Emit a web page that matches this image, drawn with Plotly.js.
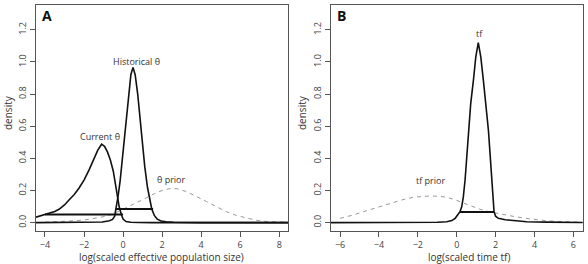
<!DOCTYPE html>
<html>
<head>
<meta charset="utf-8">
<script src="https://cdn.plot.ly/plotly-3.0.1.min.js"></script>
<style>html,body{margin:0;padding:0;background:#fff;}#chart{width:588px;height:264px;}</style>
</head>
<body>
<div id="chart"></div>
<script>
// ---- Panel A data ----
const currentX = [-4.46, -4.0, -3.79, -3.5, -3.28, -3.0, -2.77, -2.5, -2.26, -2.0, -1.74, -1.5, -1.3, -1.1, -0.95, -0.8, -0.65, -0.5, -0.37, -0.2, -0.1, 0.0, 0.15, 0.4, 0.8, 1.5, 8.45];
const currentY = [0.034, 0.05, 0.058, 0.07, 0.083, 0.11, 0.141, 0.175, 0.214, 0.265, 0.328, 0.395, 0.45, 0.488, 0.475, 0.44, 0.39, 0.32, 0.22, 0.1, 0.055, 0.022, 0.007, 0.002, 0.0005, 0, 0];
const historicalX = [-4.46, -1.5, -1.06, -0.7, -0.54, -0.43, -0.35, -0.26, -0.15, -0.08, 0.05, 0.17, 0.3, 0.4, 0.51, 0.62, 0.75, 0.86, 1.0, 1.11, 1.25, 1.37, 1.47, 1.6, 1.75, 1.95, 2.2, 2.6, 3.2, 4.0, 8.45];
const historicalY = [0, 0.0005, 0.004, 0.012, 0.02, 0.04, 0.09, 0.16, 0.26, 0.35, 0.52, 0.66, 0.82, 0.92, 0.966, 0.92, 0.8, 0.66, 0.48, 0.35, 0.22, 0.14, 0.085, 0.045, 0.022, 0.01, 0.005, 0.002, 0.001, 0, 0];
const thetaPriorX = [-4.0, -3.45, -2.9, -2.43, -1.9, -1.4, -0.95, -0.54, -0.1, 0.31, 0.75, 1.16, 1.6, 2.0, 2.4, 2.8, 3.25, 3.75, 4.28, 4.8, 5.3, 5.8, 6.33, 6.85, 7.35, 8.0, 8.45];
const thetaPriorY = [0.003, 0.005, 0.008, 0.012, 0.018, 0.027, 0.038, 0.052, 0.077, 0.104, 0.13, 0.152, 0.18, 0.2, 0.212, 0.21, 0.193, 0.165, 0.131, 0.098, 0.068, 0.045, 0.027, 0.014, 0.007, 0.003, 0.002];
const currentHpdX = [-4.0, 0.0];
const currentHpdY = [0.05, 0.05];
const historicalHpdX = [-0.37, 1.54];
const historicalHpdY = [0.085, 0.085];

// ---- Panel B data ----
const tfX = [-6.48, -2.0, -1.0, -0.51, -0.25, -0.08, 0.05, 0.17, 0.26, 0.34, 0.43, 0.52, 0.6, 0.72, 0.86, 0.98, 1.11, 1.24, 1.37, 1.5, 1.63, 1.72, 1.8, 1.87, 1.92, 2.0, 2.14, 2.5, 2.91, 3.6, 4.63, 5.5, 6.48];
const tfY = [0, 0.0005, 0.002, 0.006, 0.013, 0.027, 0.045, 0.068, 0.1, 0.16, 0.265, 0.42, 0.576, 0.74, 0.887, 1.03, 1.12, 1.03, 0.887, 0.74, 0.576, 0.42, 0.265, 0.14, 0.068, 0.04, 0.027, 0.018, 0.012, 0.006, 0.003, 0.001, 0.0005];
const tfPriorX = [-6.0, -5.4, -4.8, -4.1, -3.43, -2.8, -2.23, -1.8, -1.37, -0.95, -0.51, -0.1, 0.34, 0.8, 1.2, 1.7, 2.23, 3.0, 3.77, 4.6, 5.49, 6.3];
const tfPriorY = [0.027, 0.045, 0.068, 0.095, 0.12, 0.142, 0.158, 0.164, 0.166, 0.164, 0.158, 0.143, 0.124, 0.103, 0.083, 0.067, 0.054, 0.037, 0.023, 0.012, 0.006, 0.003];
const tfHpdX = [0.17, 1.92];
const tfHpdY = [0.066, 0.066];

// ---- tick labels ----
const xTicksA = [-4, -2, 0, 2, 4, 6, 8];
const xTicksB = [-6, -4, -2, 0, 2, 4, 6];
const yTicks = [0, 0.2, 0.4, 0.6, 0.8, 1.0, 1.2];
const yTickText = ["0.0", "0.2", "0.4", "0.6", "0.8", "1.0", "1.2"];
const minus = v => (v < 0 ? "\u2212" + Math.abs(v) : String(v));

const FONT = "'Open Sans', Lato, sans-serif";
const solid = {color: "#111", width: 1.6};
const bar = {color: "#111", width: 2};
const dashed = {color: "#999", width: 1, dash: "4px,4px"};

const traces = [
  {x: thetaPriorX, y: thetaPriorY, mode: "lines", line: dashed, xaxis: "x", yaxis: "y"},
  {x: currentX, y: currentY, mode: "lines", line: solid, xaxis: "x", yaxis: "y"},
  {x: historicalX, y: historicalY, mode: "lines", line: solid, xaxis: "x", yaxis: "y"},
  {x: currentHpdX, y: currentHpdY, mode: "lines", line: bar, xaxis: "x", yaxis: "y"},
  {x: historicalHpdX, y: historicalHpdY, mode: "lines", line: bar, xaxis: "x", yaxis: "y"},
  {x: tfPriorX, y: tfPriorY, mode: "lines", line: dashed, xaxis: "x2", yaxis: "y2"},
  {x: tfX, y: tfY, mode: "lines", line: solid, xaxis: "x2", yaxis: "y2"},
  {x: tfHpdX, y: tfHpdY, mode: "lines", line: bar, xaxis: "x2", yaxis: "y2"}
];

const W = 588, H = 264;
const axCommon = {
  showgrid: false, zeroline: false, showline: true, mirror: true,
  linecolor: "#555", linewidth: 1, ticks: "outside", ticklen: 5,
  tickcolor: "#555", tickwidth: 1,
  tickfont: {family: FONT, size: 9, color: "#444"}, fixedrange: true
};
const yDomain = [1 - 231 / H, 1 - 5 / H];
const txt = (text, x, y, xref, yref, size, extra) => Object.assign({
  text: text, x: x, y: y, xref: xref, yref: yref, showarrow: false,
  xanchor: "center", yanchor: "middle",
  font: {family: FONT, size: size, color: "#333"}
}, extra || {});
const layout = {
  width: W, height: H, margin: {l: 0, r: 0, t: 0, b: 0},
  paper_bgcolor: "#fff", plot_bgcolor: "#fff", showlegend: false,
  xaxis: Object.assign({}, axCommon, {domain: [36 / W, 288 / W], range: [-4.46, 8.45],
    tickvals: xTicksA, ticktext: xTicksA.map(minus), anchor: "y"}),
  yaxis: Object.assign({}, axCommon, {domain: yDomain, range: [-0.052, 1.354],
    tickvals: yTicks, ticktext: yTickText, tickangle: -90, anchor: "x"}),
  xaxis2: Object.assign({}, axCommon, {domain: [330.7 / W, 583.3 / W], range: [-6.48, 6.51],
    tickvals: xTicksB, ticktext: xTicksB.map(minus), anchor: "y2"}),
  yaxis2: Object.assign({}, axCommon, {domain: yDomain, range: [-0.052, 1.354],
    tickvals: yTicks, ticktext: yTickText, tickangle: -90, anchor: "x2"}),
  annotations: [
    txt("<b>A</b>", 47 / W, 1 - 16 / H, "paper", "paper", 14, {font: {family: FONT, size: 14, color: "#111"}}),
    txt("<b>B</b>", 341 / W, 1 - 16 / H, "paper", "paper", 14, {font: {family: FONT, size: 14, color: "#111"}}),
    txt("Historical \u03b8", 0.69, 1.0, "x", "y", 9),
    txt("Current \u03b8", -1.2, 0.537, "x", "y", 9),
    txt("\u03b8 prior", 2.48, 0.27, "x", "y", 9),
    txt("tf", 1.15, 1.178, "x2", "y2", 9),
    txt("tf prior", -1.33, 0.264, "x2", "y2", 9),
    txt("density", 8 / W, 1 - 113 / H, "paper", "paper", 10, {textangle: -90}),
    txt("density", 302 / W, 1 - 113 / H, "paper", "paper", 10, {textangle: -90}),
    txt("log(scaled effective population size)", 162 / W, 1 - 257 / H, "paper", "paper", 10),
    txt("log(scaled time tf)", 469 / W, 1 - 257 / H, "paper", "paper", 10)
  ]
};

Plotly.newPlot("chart", traces, layout, {displayModeBar: false, staticPlot: true});
</script>
</body>
</html>
